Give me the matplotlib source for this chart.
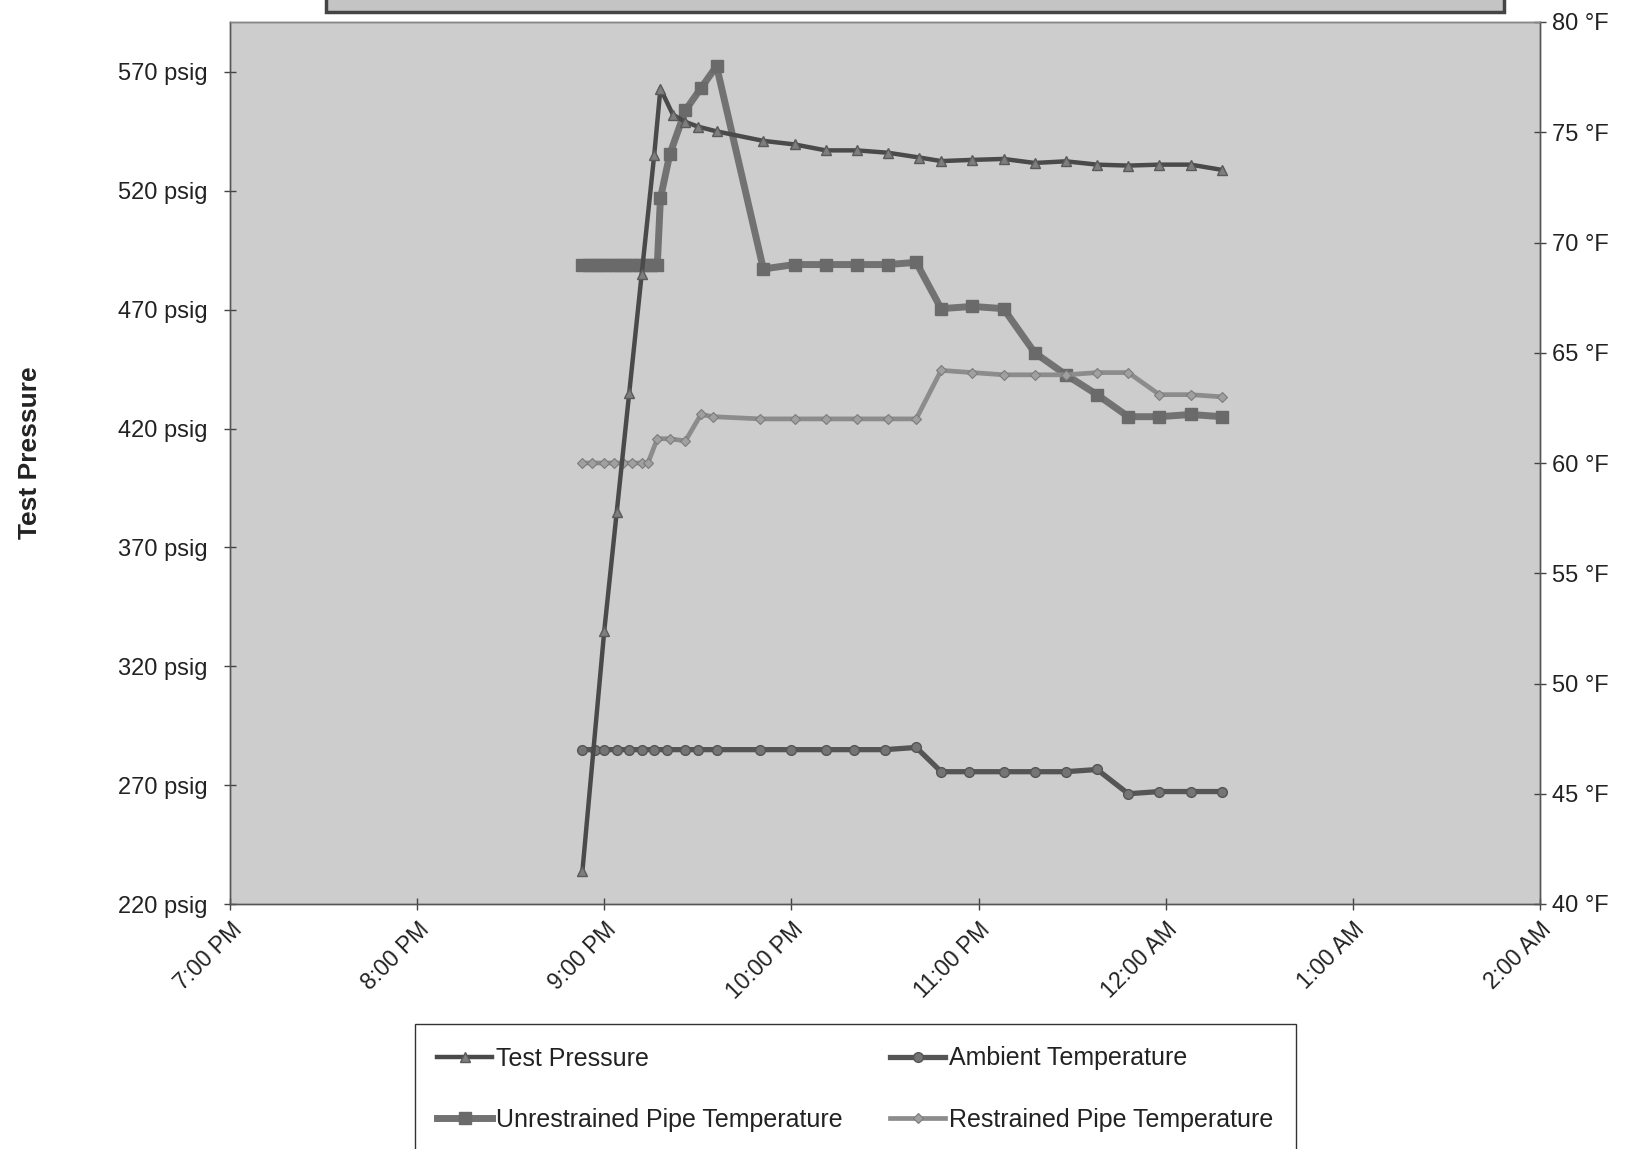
import matplotlib
matplotlib.use('Agg')
import matplotlib.pyplot as plt
from matplotlib.patches import Rectangle
from matplotlib.lines import Line2D

plt.rcParams['font.family'] = ['Liberation Sans', 'DejaVu Sans']

# ---------------- data ----------------
pressure_times = ['20:53', '21:00', '21:04', '21:08', '21:12', '21:16', '21:18',
                  '21:22', '21:26', '21:30', '21:36', '21:51', '22:01', '22:11',
                  '22:21', '22:31', '22:41', '22:48', '22:58', '23:08', '23:18',
                  '23:28', '23:38', '23:48', '23:58', '00:08', '00:18']
pressure_psig = [234, 335, 385, 435, 485, 535, 563,
                 552, 549, 547, 545, 541, 539.5, 537,
                 537, 536, 534, 532.5, 533, 533.4, 531.7,
                 532.4, 531, 530.6, 531, 531, 528.8]

ambient_times = ['20:53', '20:57', '21:00', '21:04', '21:08', '21:12', '21:16',
                 '21:20', '21:26', '21:30', '21:36', '21:50', '22:00', '22:11',
                 '22:20', '22:30', '22:40', '22:48', '22:57', '23:08', '23:18',
                 '23:28', '23:38', '23:48', '23:58', '00:08', '00:18']
ambient_temp = [47.0, 47.0, 47.0, 47.0, 47.0, 47.0, 47.0,
                47.0, 47.0, 47.0, 47.0, 47.0, 47.0, 47.0,
                47.0, 47.0, 47.1, 46.0, 46.0, 46.0, 46.0,
                46.0, 46.1, 45.0, 45.1, 45.1, 45.1]

unrestrained_times = ['20:53', '20:55', '20:57', '20:59', '21:01', '21:03', '21:05',
                      '21:07', '21:09', '21:11', '21:13', '21:15', '21:17', '21:18',
                      '21:21', '21:26', '21:31', '21:36', '21:51', '22:01', '22:11',
                      '22:21', '22:31', '22:40', '22:48', '22:58', '23:08', '23:18',
                      '23:28', '23:38', '23:48', '23:58', '00:08', '00:18']
unrestrained_temp = [69.0, 69.0, 69.0, 69.0, 69.0, 69.0, 69.0,
                     69.0, 69.0, 69.0, 69.0, 69.0, 69.0, 72.0,
                     74.0, 76.0, 77.0, 78.0, 68.8, 69.0, 69.0,
                     69.0, 69.0, 69.1, 67.0, 67.1, 67.0, 65.0,
                     64.0, 63.1, 62.1, 62.1, 62.2, 62.1]

restrained_times = ['20:53', '20:56', '21:00', '21:03', '21:06', '21:09', '21:12',
                    '21:14', '21:17', '21:21', '21:26', '21:31', '21:35', '21:50',
                    '22:01', '22:11', '22:21', '22:31', '22:40', '22:48', '22:58',
                    '23:08', '23:18', '23:28', '23:38', '23:48', '23:58', '00:08',
                    '00:18']
restrained_temp = [60.0, 60.0, 60.0, 60.0, 60.0, 60.0, 60.0,
                   60.0, 61.1, 61.1, 61.0, 62.2, 62.1, 62.0,
                   62.0, 62.0, 62.0, 62.0, 62.0, 64.2, 64.1,
                   64.0, 64.0, 64.0, 64.1, 64.1, 63.1, 63.1,
                   63.0]

x_tick_hours = [19, 20, 21, 22, 23, 24, 25, 26]
x_tick_labels = ['7:00 PM', '8:00 PM', '9:00 PM', '10:00 PM', '11:00 PM',
                 '12:00 AM', '1:00 AM', '2:00 AM']
psig_ticks = [220, 270, 320, 370, 420, 470, 520, 570]
temp_ticks = [40, 45, 50, 55, 60, 65, 70, 75, 80]


def to_hours(ts):
    out = []
    for s in ts:
        h, m = s.split(':')
        v = int(h) + int(m) / 60.0
        if v < 12:
            v += 24
        out.append(v)
    return out


W, H = 1634, 1149
fig = plt.figure(figsize=(W / 100, H / 100), dpi=100)
fig.patch.set_facecolor('white')

left, right, top, bottom = 230, 1540, 22, 904
ax = fig.add_axes([left / W, 1 - bottom / H, (right - left) / W, (bottom - top) / H])
ax2 = ax.twinx()

# background on the temperature axes, pressure axes drawn on top
ax2.set_zorder(1)
ax.set_zorder(2)
ax.patch.set_visible(False)
ax2.patch.set_visible(True)
ax2.set_facecolor('#cdcdcd')

c_press = '#4a4a4a'
c_amb = '#555555'
c_unr = '#727272'
c_res = '#8c8c8c'

st_press = dict(color=c_press, lw=3.2, marker='^', ms=7, mfc='#7e7e7e', mec='#5a5a5a', mew=1)
st_amb = dict(color=c_amb, lw=3.8, marker='o', ms=7, mfc='#747474', mec=c_amb, mew=1)
st_unr = dict(color=c_unr, lw=5.0, marker='s', ms=9, mfc='#6a6a6a', mec='#6a6a6a')
st_res = dict(color=c_res, lw=3.4, marker='D', ms=5, mfc='#a0a0a0', mec='#7c7c7c', mew=0.8)

ax.plot(to_hours(pressure_times), pressure_psig, zorder=3, **st_press)
ax2.plot(to_hours(ambient_times), ambient_temp, **st_amb)
ax2.plot(to_hours(unrestrained_times), unrestrained_temp, **st_unr)
ax2.plot(to_hours(restrained_times), restrained_temp, **st_res)

ax.set_xlim(19, 26)
ax.set_ylim(220, 591)
ax2.set_ylim(40, 80)

ax.set_xticks(x_tick_hours)
ax.set_xticklabels(x_tick_labels, rotation=45, ha='right', rotation_mode='anchor',
                   fontsize=16.5, color='#222222')
ax.set_yticks(psig_ticks)
ax.set_yticklabels([f'{v} psig' for v in psig_ticks], fontsize=17, color='#222222')
ax2.set_yticks(temp_ticks)
ax2.set_yticklabels([f'{v} \u00b0F' for v in temp_ticks], fontsize=17, color='#222222')

ax.tick_params(axis='x', direction='inout', length=8, width=1, color='#444444', pad=6)
ax.tick_params(axis='y', direction='inout', length=8, width=1, color='#444444', pad=12)
ax2.tick_params(axis='y', direction='inout', length=8, width=1, color='#444444', pad=5)

for a in (ax, ax2):
    for s in a.spines.values():
        s.set_color('#555555')
        s.set_linewidth(1.0)
ax.spines['top'].set_color('#888888')

fig.text(30 / W, 1 - 453 / H, 'Test Pressure', rotation=90, fontsize=19,
         fontweight='bold', ha='center', va='center', color='#222222')

# clipped title box at the very top
fig.patches.append(Rectangle((326 / W, 1 - 12 / H), (1504 - 326) / W, 0.05,
                             transform=fig.transFigure, facecolor='#c4c4c4',
                             edgecolor='#444444', lw=2.5, zorder=0))

handles = [Line2D([], [], **st_press), Line2D([], [], **st_unr),
           Line2D([], [], **st_amb), Line2D([], [], **st_res)]
labels = ['Test Pressure', 'Unrestrained Pipe Temperature',
          'Ambient Temperature', 'Restrained Pipe Temperature']
leg = fig.legend(handles, labels, loc='upper left',
                 bbox_to_anchor=(415 / W, 1 - 1024 / H), ncol=2, fontsize=18,
                 frameon=True, fancybox=False, edgecolor='#333333',
                 facecolor='white', framealpha=1, handlelength=2.2,
                 handletextpad=0.15, columnspacing=1.9, labelspacing=1.5,
                 borderpad=0.9, borderaxespad=0)
leg.get_frame().set_linewidth(1.0)
for t in leg.get_texts():
    t.set_color('#222222')

fig.savefig('out.png', dpi=100)
